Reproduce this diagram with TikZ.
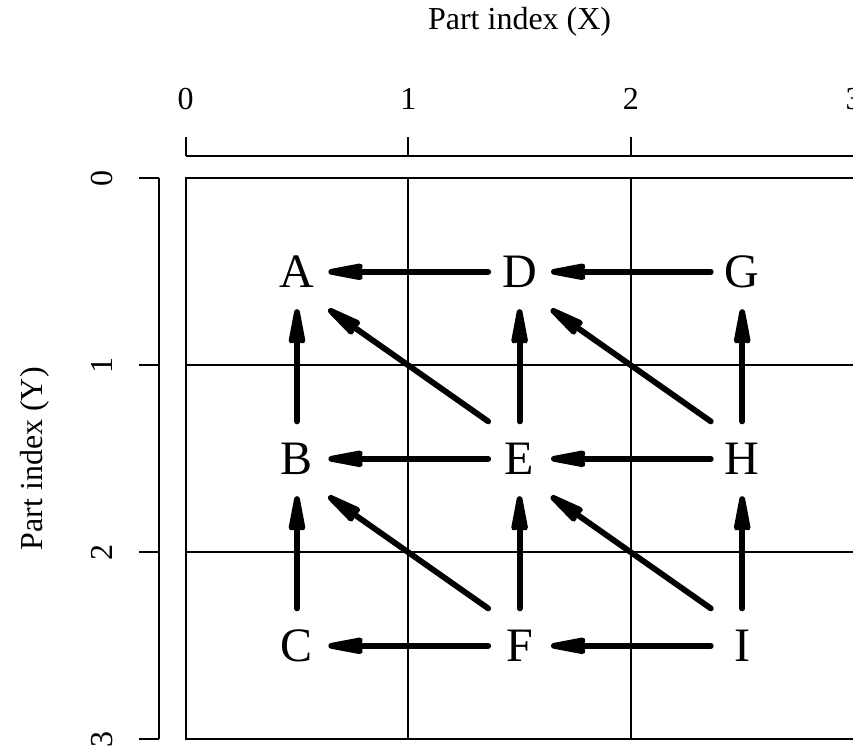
\documentclass[tikz,border=0pt]{standalone}
\usepackage{fontspec}
\setmainfont{Liberation Serif}
\usetikzlibrary{arrows.meta}

\begin{document}
\begin{tikzpicture}[
    x=111.3pt, y=-93.5pt,
    thin line/.style={line width=0.9pt},
    part/.style={
      rectangle, inner sep=0pt, minimum width=31pt, minimum height=37pt,
      font=\fontsize{24}{28}\selectfont
    },
    ticklabel/.style={font=\fontsize{16}{19}\selectfont},
    arr/.style={-{Stealth[length=25pt, width=9pt, inset=2.5pt, round]},
      line width=2.9pt, line cap=round}
  ]
  \useasboundingbox (-0.8342,-0.9535) rectangle (2.9977,3.0626);

  % frame and grid
  \draw[thin line] (0,0) rectangle (3,3);
  \draw[thin line] (1,0) -- (1,3);
  \draw[thin line] (2,0) -- (2,3);
  \draw[thin line] (0,1) -- (3,1);
  \draw[thin line] (0,2) -- (3,2);

  % top axis
  \draw[thin line] (0,-0.1193) -- (3,-0.1193);
  \draw[thin line] (0,-0.1193) -- (0,-0.2225);
  \draw[thin line] (1,-0.1193) -- (1,-0.2225);
  \draw[thin line] (2,-0.1193) -- (2,-0.2225);
  \draw[thin line] (3,-0.1193) -- (3,-0.2225);
  \node[ticklabel] (tx0) at (0,-0.424) {0};
  \node[ticklabel] (tx1) at (1,-0.424) {1};
  \node[ticklabel] (tx2) at (2,-0.424) {2};
  \node[ticklabel] (tx3) at (3,-0.424) {3};
  \node[ticklabel] (xtitle) at (1.5,-0.836) {Part index (X)};

  % left axis
  \draw[thin line] (-0.1213,0) -- (-0.1213,3);
  \draw[thin line] (-0.1213,0) -- (-0.2098,0);
  \draw[thin line] (-0.1213,1) -- (-0.2098,1);
  \draw[thin line] (-0.1213,2) -- (-0.2098,2);
  \draw[thin line] (-0.1213,3) -- (-0.2098,3);
  \node[ticklabel, rotate=90] (ty0) at (-0.377,0) {0};
  \node[ticklabel, rotate=90] (ty1) at (-0.377,1) {1};
  \node[ticklabel, rotate=90] (ty2) at (-0.377,2) {2};
  \node[ticklabel, rotate=90] (ty3) at (-0.377,3) {3};
  \node[ticklabel, rotate=90] (ytitle) at (-0.677,1.5) {Part index (Y)};

  % parts
  \node[part] (A) at (0.5,0.5) {A};
  \node[part] (B) at (0.5,1.5) {B};
  \node[part] (C) at (0.5,2.5) {C};
  \node[part] (D) at (1.5,0.5) {D};
  \node[part] (E) at (1.5,1.5) {E};
  \node[part] (F) at (1.5,2.5) {F};
  \node[part] (G) at (2.5,0.5) {G};
  \node[part] (H) at (2.5,1.5) {H};
  \node[part] (I) at (2.5,2.5) {I};

  % horizontal dependencies
  \draw[arr] (D.west) -- (A.east);
  \draw[arr] (G.west) -- (D.east);
  \draw[arr] (E.west) -- (B.east);
  \draw[arr] (H.west) -- (E.east);
  \draw[arr] (F.west) -- (C.east);
  \draw[arr] (I.west) -- (F.east);

  % vertical dependencies
  \draw[arr] (B.north) -- (A.south);
  \draw[arr] (C.north) -- (B.south);
  \draw[arr] (E.north) -- (D.south);
  \draw[arr] (F.north) -- (E.south);
  \draw[arr] (H.north) -- (G.south);
  \draw[arr] (I.north) -- (H.south);

  % diagonal dependencies
  \draw[arr] (E.north west) -- (A.south east);
  \draw[arr] (H.north west) -- (D.south east);
  \draw[arr] (F.north west) -- (B.south east);
  \draw[arr] (I.north west) -- (E.south east);
\end{tikzpicture}
\end{document}
